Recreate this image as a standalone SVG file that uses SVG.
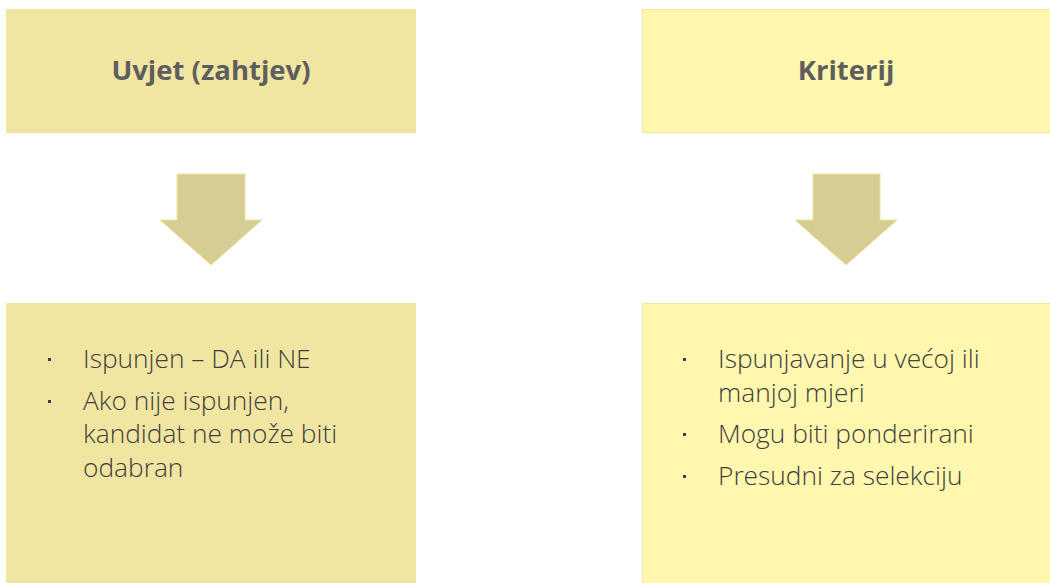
<svg xmlns="http://www.w3.org/2000/svg" width="1050" height="583" viewBox="0 0 1050 583">
<style>
.l{fill:#F1E6A1}
.r{fill:#FFF7AD;stroke:#F5E79A;stroke-width:1}
.arr{fill:#D5CD93;stroke:#EDE29A;stroke-width:1}
.t{font-family:"Open Sans","Noto Sans",sans-serif;font-weight:700;font-size:27.5px;fill:#5E5E5E;text-anchor:middle}
.b{font-family:"Open Sans","Noto Sans",sans-serif;font-weight:300;font-size:26.3px;fill:#404040}
.d{fill:#404040}
</style>
<rect width="1050" height="583" fill="#FFFFFF"/>
<g id="uvjet">
<rect class="l" x="6" y="9" width="410" height="124"/>
<text class="t" x="211" y="80">Uvjet (zahtjev)</text>
</g>
<g id="kriterij">
<rect class="r" x="642.5" y="9.5" width="410" height="123"/>
<text class="t" x="846" y="80">Kriterij</text>
</g>
<g id="connectors">
<polygon class="arr" points="177,174 245,174 245,220 262,220 211,265 160,220 177,220"/>
<polygon class="arr" points="813,174 880,174 880,220 897,220 846,265 795,220 813,220"/>
</g>
<g id="uvjet-opis">
<rect class="l" x="6" y="303" width="410" height="280"/>
<rect class="d" x="48" y="358" width="3" height="3"/>
<rect class="d" x="48" y="400" width="3" height="3"/>
<text class="b" x="83" y="368">Ispunjen – DA ili NE</text>
<text class="b" x="83" y="410">Ako nije ispunjen,</text>
<text class="b" x="83" y="443">kandidat ne može biti</text>
<text class="b" x="83" y="477">odabran</text>
</g>
<g id="kriterij-opis">
<rect class="r" x="642.5" y="303.5" width="410" height="281"/>
<rect class="d" x="683" y="358" width="3" height="3"/>
<rect class="d" x="683" y="433" width="3" height="3"/>
<rect class="d" x="683" y="475" width="3" height="3"/>
<text class="b" x="718" y="368">Ispunjavanje u većoj ili</text>
<text class="b" x="718" y="402">manjoj mjeri</text>
<text class="b" x="718" y="443">Mogu biti ponderirani</text>
<text class="b" x="718" y="485">Presudni za selekciju</text>
</g>
</svg>
